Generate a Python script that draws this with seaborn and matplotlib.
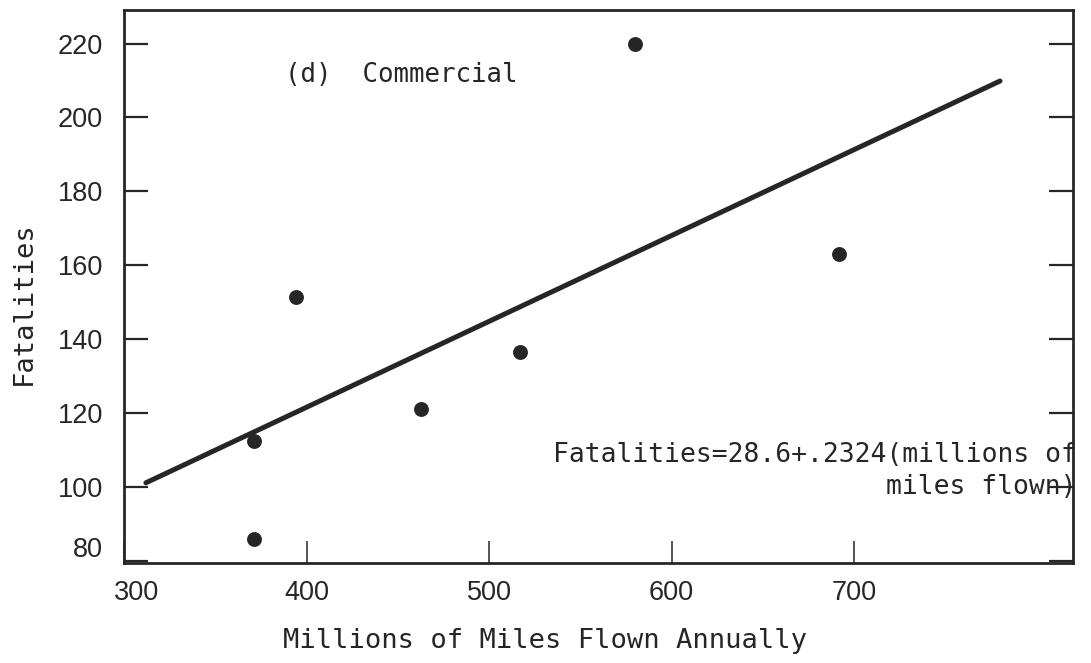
import matplotlib
matplotlib.use("Agg")
import matplotlib.pyplot as plt
import matplotlib.transforms as mtransforms
import seaborn as sns
import pandas as pd
import numpy as np

# ---- data ----
miles_flown = [371, 371, 394, 463, 517, 580, 692]
fatalities = [86, 112.5, 151.5, 121, 136.5, 220, 163]
fit_intercept = 28.6
fit_slope = 0.2324
fit_x_range = [312, 780]
x_ticks = [300, 400, 500, 600, 700]
y_ticks = [80, 100, 120, 140, 160, 180, 200, 220]
panel_label = "(d)  Commercial"
equation_line1 = "Fatalities=28.6+.2324(millions of"
equation_line2 = "miles flown)"
x_label = "Millions of Miles Flown Annually"
y_label = "Fatalities"

sns.set_theme(style="ticks")
mono = ["DejaVu Sans Mono"]
plt.rcParams["font.family"] = ["Liberation Sans", "DejaVu Sans"]

ink = "#262626"

fig = plt.figure(figsize=(10.91, 6.63), dpi=100)
ax = fig.add_axes([124 / 1091, 1 - 563 / 663, (1073 - 124) / 1091, (563 - 10) / 663])

pts = pd.DataFrame({"miles": miles_flown, "fatal": fatalities})
fit = pd.DataFrame({"miles": fit_x_range,
                    "fatal": [fit_intercept + fit_slope * v for v in fit_x_range]})

sns.lineplot(data=fit, x="miles", y="fatal", ax=ax, color=ink, linewidth=3.6,
             solid_capstyle="round")
sns.scatterplot(data=pts, x="miles", y="fatal", ax=ax, color=ink, s=115,
                edgecolor=ink, linewidth=0, zorder=3)

ax.set_xlim(301, 820)
ax.set_ylim(79.4, 229.1)
ax.set_xticks(x_ticks)
ax.set_yticks(y_ticks)
ax.set_xticklabels([str(v) for v in x_ticks])
ax.set_yticklabels([str(v) for v in y_ticks])

for s in ax.spines.values():
    s.set_color(ink)
    s.set_linewidth(2.0)

ax.tick_params(axis="y", direction="in", length=17, width=1.6, color=ink,
               left=True, right=True, labelright=False, labelsize=19.5,
               labelcolor=ink, pad=15)
ax.tick_params(axis="x", direction="in", length=16, width=1.1, color=ink,
               top=False, labelsize=19.5, labelcolor=ink, pad=12)

# the scanned original has its first labels slightly displaced
xl0 = ax.get_xticklabels()[0]
xl0.set_transform(xl0.get_transform() + mtransforms.ScaledTranslation(0.13, 0, fig.dpi_scale_trans))
yl0 = ax.get_yticklabels()[0]
yl0.set_transform(yl0.get_transform() + mtransforms.ScaledTranslation(0, 0.14, fig.dpi_scale_trans))

ax.set_xlabel(x_label, fontsize=19.5, family=mono, color=ink)
ax.set_ylabel(y_label, fontsize=19.5, family=mono, color=ink)
ax.xaxis.set_label_coords(0.444, -0.117)
ax.yaxis.set_label_coords(-0.092, 0.47)

ax.text(0.170, 0.882, panel_label, transform=ax.transAxes, fontsize=18.5,
        family=mono, color=ink, ha="left", va="center")
ax.text(1.004, 0.195, equation_line1, transform=ax.transAxes, fontsize=19,
        family=mono, color=ink, ha="right", va="center", clip_on=False)
ax.text(1.004, 0.137, equation_line2, transform=ax.transAxes, fontsize=19,
        family=mono, color=ink, ha="right", va="center", clip_on=False)

fig.savefig("out.png", dpi=100, facecolor="white")
